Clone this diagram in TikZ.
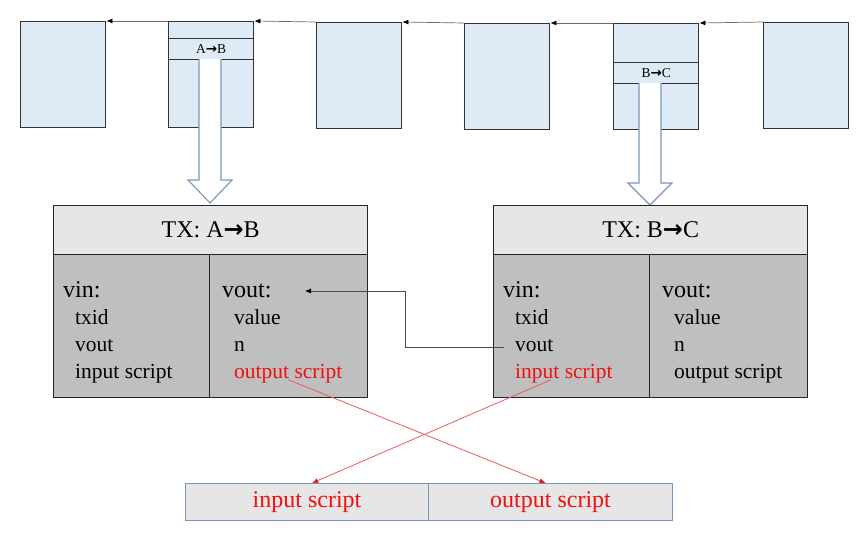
\documentclass[tikz,border=0pt]{standalone}
\usepackage{fontspec}
\setmainfont{Liberation Serif}
\newfontfamily\arrowfont{DejaVu Sans}
\usetikzlibrary{arrows.meta}
\newcommand{\rarr}{{\arrowfont\bfseries\symbol{"2192}}}

\definecolor{blockfill}{HTML}{DEEAF6}
\definecolor{blockline}{HTML}{333333}
\definecolor{hollowline}{HTML}{7896BA}
\definecolor{headfill}{HTML}{E6E6E6}
\definecolor{bodyfill}{HTML}{BFBFBF}
\definecolor{scriptred}{HTML}{F01010}
\definecolor{linkred}{HTML}{EE5A5A}
\definecolor{chainline}{HTML}{6A6A6A}

\tikzset{
  blk/.style={draw=blockline, fill=blockfill, line width=1.4pt, inner sep=0pt,
    anchor=north west, minimum width=85pt, font=\fontsize{13.5}{15}\selectfont},
  chain/.style={draw=chainline, line width=0.7pt, -{Latex[length=6pt,width=5pt,black]}},
  hollow/.style={fill=white, draw=hollowline, line width=1.1pt},
  txhead/.style={draw=black!85, fill=headfill, line width=1.4pt, anchor=north west,
    minimum height=49pt, inner sep=0pt, font=\fontsize{24}{28}\selectfont},
  txbody/.style={draw=black!85, fill=bodyfill, line width=1.4pt, anchor=north west,
    minimum height=143pt, inner sep=0pt},
  caption/.style={anchor=base west, inner sep=0pt, font=\fontsize{24}{28}\selectfont},
  item/.style={anchor=base west, inner sep=0pt, font=\fontsize{21.5}{26}\selectfont},
  red item/.style={item, text=scriptred},
  link/.style={draw=black!70, line width=0.7pt, -{Latex[length=6pt,width=5pt,black]}},
  redlink/.style={draw=linkred, line width=0.8pt, -{Latex[length=6pt,width=5pt,scriptred]}},
  scriptbox/.style={draw=hollowline, fill=headfill, line width=1.1pt, anchor=north west,
    minimum height=37pt, inner sep=0pt, text=scriptred, font=\fontsize{24}{28}\selectfont},
}

\begin{document}
\begin{tikzpicture}[x=1pt,y=-1pt]
\useasboundingbox (0,0) rectangle (859,533);

% chain of blocks
\node[blk, minimum height=106pt] (b1) at (20,21) {};
\node[blk, minimum height=106pt] (b2) at (168,21) {};
\node[blk, minimum height=106pt] (b3) at (316,22) {};
\node[blk, minimum height=106pt] (b4) at (464,23) {};
\node[blk, minimum height=106pt] (b5) at (613,23) {};
\node[blk, minimum height=106pt] (b6) at (763,22) {};

% transaction rows inside two of the blocks
\node[blk, minimum height=21pt] (row1) at (168,38) {A\rarr B};
\node[blk, minimum height=21pt] (row2) at (613,62) {B\rarr C};

% back links between blocks
\draw[chain] (b2.north west) -- (b1.north east);
\draw[chain] (b3.north west) -- (b2.north east);
\draw[chain] (b4.north west) -- (b3.north east);
\draw[chain] (b5.north west) -- (b4.north east);
\draw[chain] (b6.north west) -- (b5.north east);

% hollow arrows down to the transactions
\path[hollow] (199,59) -- (199,180) -- (188,180) -- (210,203) -- (232,180) -- (221,180) -- (221,59);
\path[hollow] (639,83) -- (639,183) -- (628,183) -- (650,205) -- (672,183) -- (661,183) -- (661,83);

% transaction A -> B
\node[txhead, minimum width=314pt] (abhead) at (53,205) {TX: A\rarr B};
\node[txbody, minimum width=156pt] (abin) at (53,254) {};
\node[txbody, minimum width=158pt] (about) at (209,254) {};
\node[caption] (abvin) at (63,297) {vin:};
\node[item] (abtxid) at (75,324) {txid};
\node[item] (abvoutref) at (75,351) {vout};
\node[item] (abinscript) at (75,378) {input script};
\node[caption] (abvout) at (222,297) {vout:};
\node[item] (abvalue) at (234,324) {value};
\node[item] (abn) at (234,351) {n};
\node[red item] (aboutscript) at (234,378) {output script};

% transaction B -> C
\node[txhead, minimum width=314pt] (bchead) at (493,205) {TX: B\rarr C};
\node[txbody, minimum width=156pt] (bcin) at (493,254) {};
\node[txbody, minimum width=158pt] (bcout) at (649,254) {};
\node[caption] (bcvin) at (503,297) {vin:};
\node[item] (bctxid) at (515,324) {txid};
\node[item] (bcvoutref) at (515,351) {vout};
\node[red item] (bcinscript) at (515,378) {input script};
\node[caption] (bcvout) at (662,297) {vout:};
\node[item] (bcvalue) at (674,324) {value};
\node[item] (bcn) at (674,351) {n};
\node[item] (bcoutscript) at (674,378) {output script};

% the input refers back to the earlier output
\coordinate (vtip) at (305,291);
\draw[link] ([xshift=-11pt,yshift=-2pt]bcvoutref.west) -- ++(-99,0) |- (vtip);

% combined script
\node[scriptbox, minimum width=243pt] (inbox) at (185,483) {input script};
\node[scriptbox, minimum width=244pt] (outbox) at (428,483) {output script};

\draw[redlink] ([yshift=3pt]aboutscript.south) -- ([xshift=-5pt]outbox.north);
\draw[redlink] ([xshift=-13pt,yshift=3pt]bcinscript.south) -- ([xshift=5pt]inbox.north);
\end{tikzpicture}
\end{document}
